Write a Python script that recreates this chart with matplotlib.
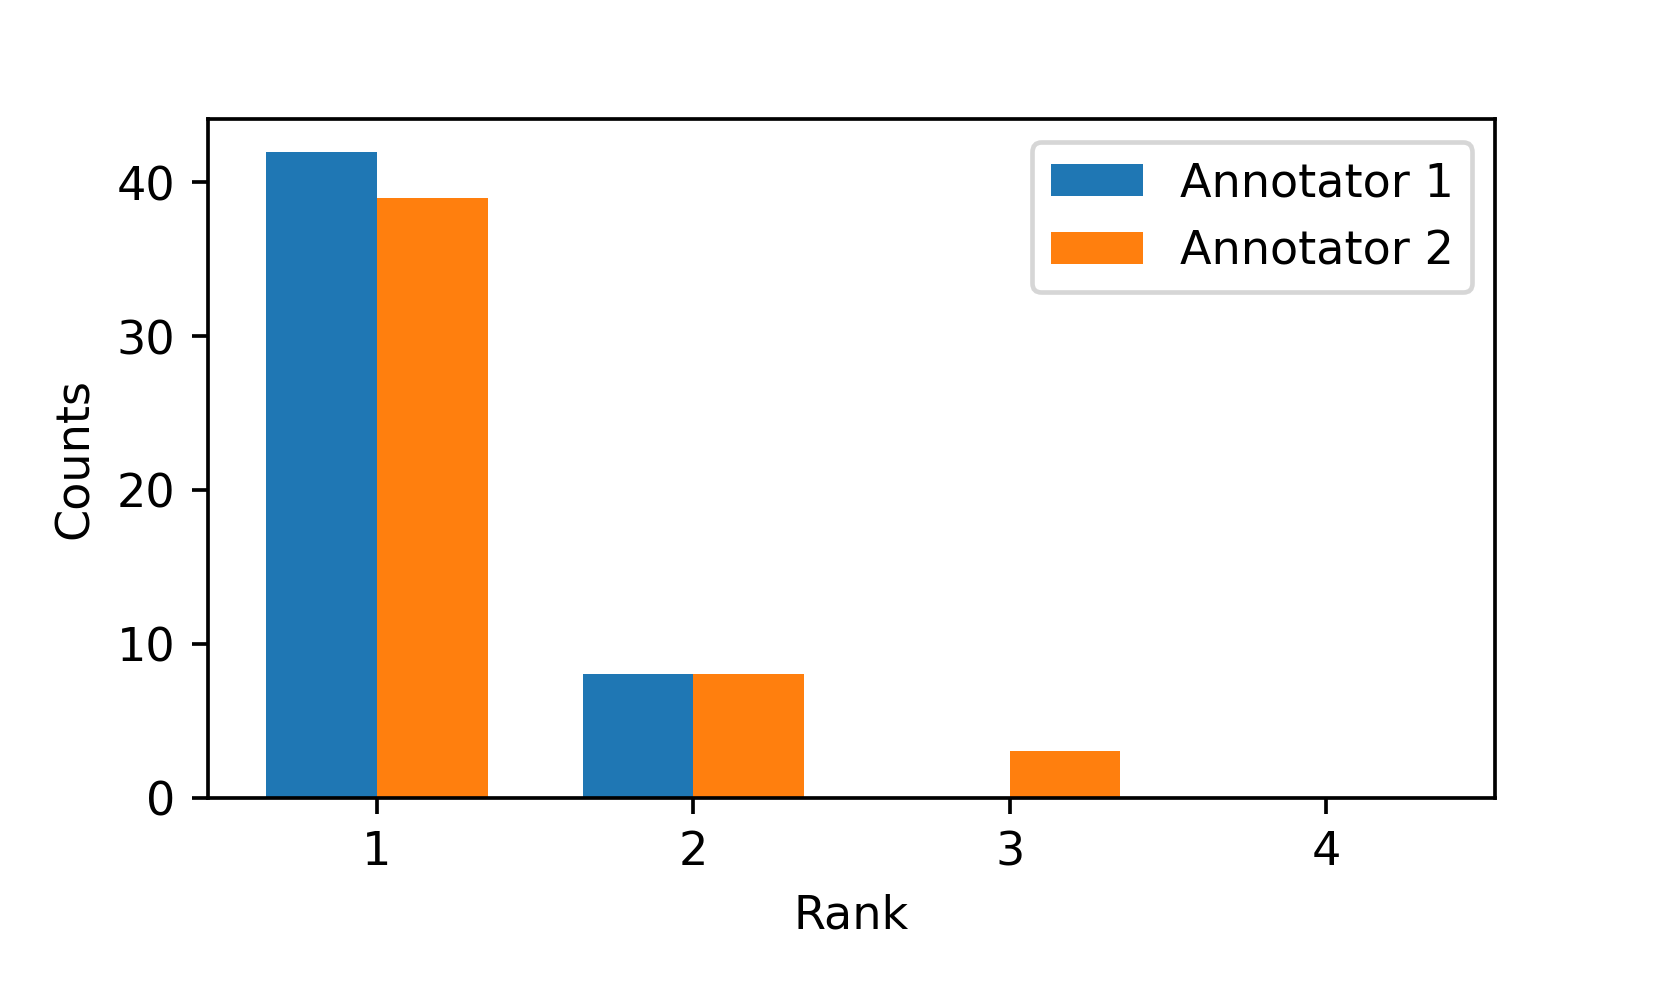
import matplotlib
matplotlib.use("Agg")
import matplotlib.pyplot as plt
import numpy as np

ranks = [1, 2, 3, 4]
annotator1 = [42, 8, 0, 0]
annotator2 = [39, 8, 3, 0]
labels = ["Annotator 1", "Annotator 2"]

DPI = 332.2
fig, ax = plt.subplots(figsize=(1661.4 / DPI, 997.4 / DPI), dpi=DPI)
fig.subplots_adjust(left=0.125, right=0.9, top=0.88, bottom=0.2)
x = np.array(ranks)
w = 0.35
ax.bar(x - w / 2, annotator1, w, label=labels[0])
ax.bar(x + w / 2, annotator2, w, label=labels[1])
ax.set_xticks(ranks)
ax.set_xlabel("Rank")
ax.set_ylabel("Counts")
ax.legend()
fig.savefig("out.png", dpi=DPI)
